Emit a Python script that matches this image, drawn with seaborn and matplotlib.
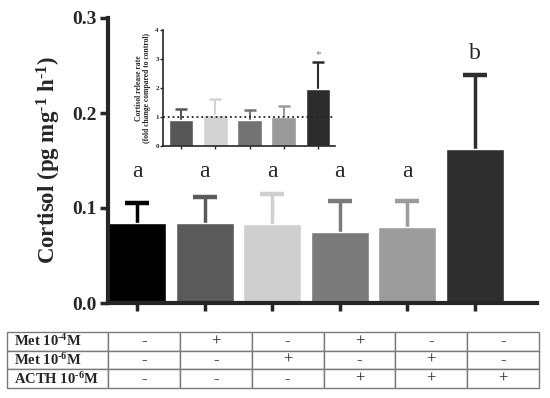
import matplotlib
matplotlib.use("Agg")
import matplotlib.pyplot as plt
import seaborn as sns
import pandas as pd
import numpy as np

# main chart data
groups = ["C", "M4", "M6", "A+M4", "A+M6", "A"]
cortisol = [0.084, 0.084, 0.083, 0.075, 0.080, 0.162]
cortisol_err = [0.021, 0.028, 0.032, 0.032, 0.027, 0.078]
letters = ["a", "a", "a", "a", "a", "b"]
main_colors = ["#000000", "#5a5a5a", "#cfcfcf", "#7a7a7a", "#9c9c9c", "#2e2e2e"]

# inset data (fold change vs control)
inset_groups = ["M4", "M6", "A+M4", "A+M6", "A"]
fold = [0.90, 1.07, 0.90, 1.00, 1.97]
fold_err = [0.38, 0.55, 0.35, 0.38, 0.93]
inset_marks = ["", "", "", "", "*"]
inset_colors = ["#575757", "#d3d3d3", "#737373", "#9a9a9a", "#2c2c2c"]

# treatment table
row_labels = [r"Met 10$^{\text{-4}}$M", r"Met 10$^{\text{-6}}$M", r"ACTH 10$^{\text{-6}}$M"]
met4 = ["-", "+", "-", "+", "-", "-"]
met6 = ["-", "-", "+", "-", "+", "-"]
acth = ["-", "-", "-", "+", "+", "+"]

sns.set_style("ticks")
plt.rcParams["font.family"] = ["Liberation Serif", "DejaVu Serif"]
plt.rcParams["mathtext.fontset"] = "custom"
plt.rcParams["mathtext.rm"] = "Liberation Serif:bold"
plt.rcParams["mathtext.bf"] = "Liberation Serif:bold"
plt.rcParams["mathtext.it"] = "Liberation Serif:bold"

W, H = 550, 398
fig = plt.figure(figsize=(5.5, 3.98), dpi=100)

def box(l, t, r, b):
    return [l / W, 1 - b / H, (r - l) / W, (b - t) / H]

def up_errors(axis, x, vals, errs, colors, lw, cap_ms, cap_mw):
    # one-sided (upper) error bars, drawn behind the bars
    for i in range(len(vals)):
        top = vals[i] + errs[i]
        axis.plot([x[i], x[i]], [vals[i], top], color=colors[i], lw=lw,
                  solid_capstyle="butt", zorder=1)
        axis.plot(x[i], top, marker="_", ms=cap_ms, mew=cap_mw, color=colors[i], zorder=1)

# main bars
ax = fig.add_axes(box(108, 18, 537, 303))
df = pd.DataFrame({"group": groups, "cortisol": cortisol})
sns.barplot(data=df, x="group", y="cortisol", hue="group", palette=main_colors,
            order=groups, legend=False, width=0.86, errorbar=None, ax=ax, zorder=2)
xs = np.arange(len(groups))
up_errors(ax, xs, cortisol, cortisol_err, main_colors, 2.5, 17, 3.2)
tops = np.array(cortisol) + np.array(cortisol_err)
for i in range(len(groups)):
    same = [tops[j] for j in range(len(groups)) if letters[j] == letters[i]]
    ax.text(xs[i], max(same) + 0.012, letters[i], ha="center", va="bottom", fontsize=17)
ax.set_xlim(-0.43, 5.92)
ax.set_ylim(0, 0.3)
ax.set_yticks([0, 0.1, 0.2, 0.3])
ax.set_yticklabels(["0.0", "0.1", "0.2", "0.3"], fontsize=14, fontweight="bold")
ax.set_xticks(xs)
ax.set_xticklabels([])
ax.set_xlabel("")
ax.set_ylabel(r"Cortisol (pg mg$^{\text{-1}}$ h$^{\text{-1}}$)", fontsize=16.5,
              fontweight="bold", labelpad=7)
ax.tick_params(width=2.5, length=6, pad=2)
for s in ["left", "bottom"]:
    ax.spines[s].set_linewidth(3)
sns.despine(ax=ax)

# inset
axi = fig.add_axes(box(163, 30, 335, 146))
dfi = pd.DataFrame({"group": inset_groups, "fold": fold})
sns.barplot(data=dfi, x="group", y="fold", hue="group", palette=inset_colors,
            order=inset_groups, legend=False, width=0.72, errorbar=None, ax=axi, zorder=2)
xi = np.arange(len(inset_groups))
up_errors(axi, xi, fold, fold_err, inset_colors, 1.5, 9, 1.8)
for i in range(len(inset_groups)):
    if inset_marks[i]:
        axi.text(xi[i], fold[i] + fold_err[i] + 0.1, inset_marks[i], ha="center",
                 va="bottom", fontsize=8, color="#777777")
axi.axhline(1, color="#222222", linestyle=":", linewidth=1.3, zorder=3)
axi.set_xlim(-0.53, 4.5)
axi.set_ylim(0, 4)
axi.set_yticks([0, 1, 2, 3, 4])
axi.set_yticklabels(["0", "1", "2", "3", "4"], fontsize=5, fontweight="bold")
axi.set_xticks(xi)
axi.set_xticklabels([])
axi.set_xlabel("")
axi.set_ylabel("Cortisol release rate\n(fold change compared to control)",
               fontsize=5.5, fontweight="bold", labelpad=3, linespacing=1.1)
axi.tick_params(width=1, length=2, pad=1)
for s in ["left", "bottom"]:
    axi.spines[s].set_linewidth(1.2)
sns.despine(ax=axi)

# treatment table
axt = fig.add_axes(box(7, 332, 539, 388))
axt.axis("off")
cells = [[lab] + row for lab, row in zip(row_labels, [met4, met6, acth])]
first_w = 101 / 532
col_w = [first_w] + [(1 - first_w) / 6] * 6
tab = axt.table(cellText=cells, colWidths=col_w, loc="center", bbox=[0, 0, 1, 1],
                cellLoc="center")
tab.auto_set_font_size(False)
for (r, c), cell in tab.get_celld().items():
    cell.set_edgecolor("#7a7a7a")
    cell.set_linewidth(1.0)
    txt = cell.get_text()
    if c == 0:
        txt.set_fontsize(10.5)
        txt.set_fontweight("bold")
        txt.set_ha("left")
        cell.PAD = 0.07
        cell._loc = "left"
    else:
        txt.set_fontsize(12)

fig.savefig("out.png", dpi=100)
